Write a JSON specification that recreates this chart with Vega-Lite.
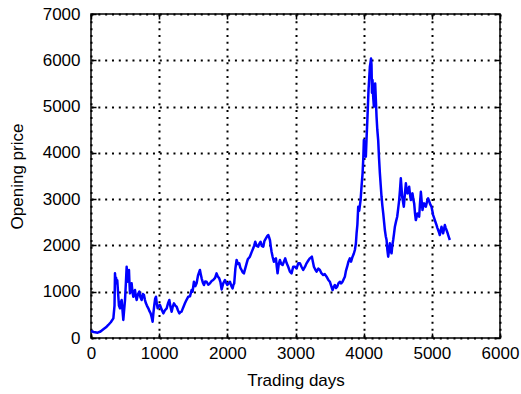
{
  "$schema": "https://vega.github.io/schema/vega-lite/v6.json",
  "autosize": "none",
  "width": 409,
  "height": 324,
  "padding": {"left": 91, "top": 14, "right": 21, "bottom": 56},
  "background": "white",
  "config": {
    "view": {"stroke": "black", "strokeWidth": 1.5},
    "font": "Liberation Sans",
    "axis": {
      "domain": false,
      "grid": true,
      "gridColor": "black",
      "gridOpacity": 1,
      "gridWidth": 2,
      "gridDash": [2, 4.83],
      "tickColor": "black",
      "tickWidth": 1.5,
      "tickSize": -5,
      "labelColor": "black",
      "labelFont": "Liberation Sans",
      "labelFontSize": 17,
      "titleFont": "Liberation Sans",
      "titleFontSize": 17,
      "titleFontWeight": "normal",
      "titleColor": "black",
      "format": "d"
    }
  },
  "data": {"values": [
    {"day":0,"price":150},{"day":40,"price":130},{"day":98,"price":115},{"day":140,"price":140},{"day":181,"price":187},{"day":220,"price":230},{"day":254,"price":281},{"day":290,"price":340},{"day":328,"price":425},{"day":345,"price":700},{"day":352,"price":1397},{"day":360,"price":1200},{"day":368,"price":1300},{"day":376,"price":1181},{"day":385,"price":1250},{"day":401,"price":892},{"day":410,"price":700},{"day":425,"price":641},{"day":435,"price":760},{"day":450,"price":821},{"day":462,"price":600},{"day":474,"price":389},{"day":486,"price":600},{"day":499,"price":821},{"day":512,"price":1200},{"day":523,"price":1540},{"day":530,"price":1350},{"day":538,"price":1216},{"day":548,"price":1350},{"day":557,"price":1469},{"day":564,"price":1200},{"day":572,"price":965},{"day":584,"price":1100},{"day":596,"price":1181},{"day":608,"price":1000},{"day":621,"price":892},{"day":633,"price":1000},{"day":645,"price":1037},{"day":658,"price":900},{"day":670,"price":821},{"day":690,"price":950},{"day":709,"price":1001},{"day":725,"price":880},{"day":743,"price":821},{"day":760,"price":950},{"day":777,"price":929},{"day":792,"price":820},{"day":806,"price":749},{"day":820,"price":700},{"day":841,"price":641},{"day":858,"price":580},{"day":875,"price":533},{"day":890,"price":450},{"day":904,"price":353},{"day":916,"price":550},{"day":929,"price":713},{"day":941,"price":850},{"day":953,"price":892},{"day":965,"price":750},{"day":978,"price":641},{"day":995,"price":700},{"day":1012,"price":713},{"day":1035,"price":620},{"day":1061,"price":533},{"day":1085,"price":600},{"day":1110,"price":641},{"day":1130,"price":750},{"day":1149,"price":821},{"day":1165,"price":680},{"day":1183,"price":569},{"day":1200,"price":680},{"day":1217,"price":749},{"day":1237,"price":700},{"day":1256,"price":677},{"day":1275,"price":600},{"day":1295,"price":533},{"day":1312,"price":560},{"day":1329,"price":569},{"day":1350,"price":650},{"day":1378,"price":749},{"day":1400,"price":820},{"day":1427,"price":892},{"day":1452,"price":900},{"day":1476,"price":1037},{"day":1490,"price":1000},{"day":1510,"price":1216},{"day":1530,"price":1120},{"day":1549,"price":1181},{"day":1570,"price":1350},{"day":1598,"price":1469},{"day":1610,"price":1380},{"day":1623,"price":1289},{"day":1640,"price":1200},{"day":1657,"price":1145},{"day":1675,"price":1220},{"day":1696,"price":1216},{"day":1720,"price":1150},{"day":1745,"price":1181},{"day":1770,"price":1230},{"day":1793,"price":1253},{"day":1820,"price":1300},{"day":1842,"price":1397},{"day":1860,"price":1330},{"day":1881,"price":1289},{"day":1900,"price":1200},{"day":1916,"price":1050},{"day":1940,"price":1180},{"day":1965,"price":1253},{"day":1980,"price":1200},{"day":1999,"price":1145},{"day":2020,"price":1180},{"day":2038,"price":1216},{"day":2060,"price":1120},{"day":2077,"price":1073},{"day":2090,"price":1150},{"day":2101,"price":1181},{"day":2118,"price":1500},{"day":2136,"price":1685},{"day":2155,"price":1600},{"day":2175,"price":1613},{"day":2190,"price":1520},{"day":2209,"price":1469},{"day":2225,"price":1420},{"day":2243,"price":1397},{"day":2262,"price":1500},{"day":2283,"price":1613},{"day":2300,"price":1700},{"day":2331,"price":1757},{"day":2355,"price":1850},{"day":2380,"price":1937},{"day":2395,"price":2000},{"day":2409,"price":2080},{"day":2430,"price":1990},{"day":2453,"price":1973},{"day":2470,"price":2040},{"day":2488,"price":2080},{"day":2505,"price":1990},{"day":2526,"price":1973},{"day":2545,"price":2100},{"day":2566,"price":2153},{"day":2585,"price":2200},{"day":2600,"price":2225},{"day":2612,"price":2180},{"day":2625,"price":2117},{"day":2637,"price":1980},{"day":2649,"price":1864},{"day":2665,"price":1750},{"day":2683,"price":1648},{"day":2698,"price":1700},{"day":2713,"price":1721},{"day":2725,"price":1550},{"day":2737,"price":1397},{"day":2755,"price":1600},{"day":2771,"price":1685},{"day":2790,"price":1600},{"day":2811,"price":1577},{"day":2830,"price":1650},{"day":2849,"price":1721},{"day":2870,"price":1620},{"day":2893,"price":1540},{"day":2918,"price":1433},{"day":2942,"price":1397},{"day":2966,"price":1540},{"day":2991,"price":1540},{"day":3016,"price":1505},{"day":3040,"price":1613},{"day":3065,"price":1613},{"day":3088,"price":1540},{"day":3113,"price":1469},{"day":3140,"price":1540},{"day":3162,"price":1613},{"day":3190,"price":1680},{"day":3211,"price":1721},{"day":3240,"price":1757},{"day":3255,"price":1650},{"day":3270,"price":1540},{"day":3290,"price":1480},{"day":3309,"price":1433},{"day":3335,"price":1500},{"day":3358,"price":1469},{"day":3380,"price":1400},{"day":3407,"price":1361},{"day":3430,"price":1380},{"day":3456,"price":1325},{"day":3480,"price":1260},{"day":3504,"price":1216},{"day":3525,"price":1120},{"day":3544,"price":1037},{"day":3560,"price":1100},{"day":3578,"price":1145},{"day":3595,"price":1080},{"day":3612,"price":1109},{"day":3630,"price":1180},{"day":3651,"price":1216},{"day":3670,"price":1180},{"day":3690,"price":1216},{"day":3710,"price":1280},{"day":3724,"price":1325},{"day":3740,"price":1450},{"day":3758,"price":1540},{"day":3775,"price":1640},{"day":3798,"price":1721},{"day":3815,"price":1650},{"day":3837,"price":1757},{"day":3855,"price":1820},{"day":3871,"price":1901},{"day":3886,"price":2045},{"day":3896,"price":2261},{"day":3908,"price":2450},{"day":3920,"price":2836},{"day":3935,"price":2750},{"day":3955,"price":2980},{"day":3970,"price":3300},{"day":3984,"price":3557},{"day":3995,"price":3900},{"day":4003,"price":4276},{"day":4018,"price":4100},{"day":4032,"price":3916},{"day":4042,"price":4300},{"day":4052,"price":4637},{"day":4062,"price":5000},{"day":4071,"price":5356},{"day":4081,"price":5600},{"day":4091,"price":5860},{"day":4100,"price":5950},{"day":4108,"price":6041},{"day":4115,"price":5900},{"day":4122,"price":5300},{"day":4130,"price":5572},{"day":4140,"price":5200},{"day":4150,"price":4996},{"day":4160,"price":5250},{"day":4169,"price":5500},{"day":4180,"price":5100},{"day":4189,"price":4780},{"day":4200,"price":4500},{"day":4213,"price":4276},{"day":4225,"price":3900},{"day":4238,"price":3557},{"day":4250,"price":3300},{"day":4262,"price":3052},{"day":4275,"price":2850},{"day":4287,"price":2692},{"day":4300,"price":2500},{"day":4311,"price":2333},{"day":4324,"price":2200},{"day":4336,"price":2117},{"day":4348,"price":1900},{"day":4360,"price":1757},{"day":4372,"price":1900},{"day":4384,"price":2045},{"day":4396,"price":1900},{"day":4409,"price":1829},{"day":4420,"price":2000},{"day":4433,"price":2117},{"day":4445,"price":2250},{"day":4458,"price":2405},{"day":4475,"price":2520},{"day":4492,"price":2620},{"day":4507,"price":2800},{"day":4521,"price":2980},{"day":4533,"price":3200},{"day":4545,"price":3449},{"day":4555,"price":3250},{"day":4565,"price":3052},{"day":4577,"price":2950},{"day":4589,"price":2836},{"day":4604,"price":3100},{"day":4619,"price":3341},{"day":4631,"price":3200},{"day":4643,"price":3125},{"day":4655,"price":3200},{"day":4667,"price":3268},{"day":4680,"price":3100},{"day":4692,"price":2980},{"day":4704,"price":3050},{"day":4716,"price":3125},{"day":4728,"price":3000},{"day":4741,"price":2908},{"day":4753,"price":2700},{"day":4765,"price":2548},{"day":4778,"price":2620},{"day":4790,"price":2692},{"day":4802,"price":2650},{"day":4814,"price":2620},{"day":4826,"price":2900},{"day":4839,"price":3160},{"day":4851,"price":2950},{"day":4863,"price":2764},{"day":4875,"price":2850},{"day":4887,"price":2908},{"day":4900,"price":2870},{"day":4912,"price":2836},{"day":4930,"price":2950},{"day":4946,"price":3017},{"day":4960,"price":2960},{"day":4971,"price":2908},{"day":4983,"price":2870},{"day":4995,"price":2836},{"day":5007,"price":2750},{"day":5019,"price":2656},{"day":5032,"price":2600},{"day":5044,"price":2548},{"day":5057,"price":2490},{"day":5069,"price":2440},{"day":5081,"price":2380},{"day":5093,"price":2333},{"day":5105,"price":2280},{"day":5117,"price":2225},{"day":5130,"price":2320},{"day":5142,"price":2405},{"day":5154,"price":2330},{"day":5166,"price":2261},{"day":5178,"price":2350},{"day":5191,"price":2440},{"day":5203,"price":2380},{"day":5215,"price":2333},{"day":5228,"price":2280},{"day":5240,"price":2225},{"day":5252,"price":2170},{"day":5264,"price":2117}
  ]},
  "layer": [
    {
      "mark": {"type": "line", "color": "#0000FF", "strokeWidth": 2.5, "interpolate": "linear", "strokeJoin": "round"},
      "encoding": {
        "x": {"field": "day", "type": "quantitative", "scale": {"domain": [0, 6000], "nice": false, "zero": false},
              "axis": {"title": "Trading days", "values": [0,1000,2000,3000,4000,5000,6000], "labelPadding": 12, "titlePadding": 11, "labelFlush": false}},
        "y": {"field": "price", "type": "quantitative", "scale": {"domain": [0, 7000], "nice": false, "zero": false},
              "axis": {"title": "Opening price", "values": [0,1000,2000,3000,4000,5000,6000,7000], "labelPadding": 16, "titlePadding": 16}}
      }
    },
    {
      "mark": {"type": "line", "opacity": 0},
      "encoding": {
        "x": {"field": "day", "type": "quantitative", "scale": {"domain": [0, 6000], "nice": false, "zero": false},
              "axis": {"orient": "top", "title": null, "labels": false, "grid": false, "values": [0,1000,2000,3000,4000,5000,6000]}},
        "y": {"field": "price", "type": "quantitative", "scale": {"domain": [0, 7000], "nice": false, "zero": false},
              "axis": {"orient": "right", "title": null, "labels": false, "grid": false, "values": [0,1000,2000,3000,4000,5000,6000,7000]}}
      }
    }
  ],
  "resolve": {"axis": {"x": "independent", "y": "independent"}}
}
